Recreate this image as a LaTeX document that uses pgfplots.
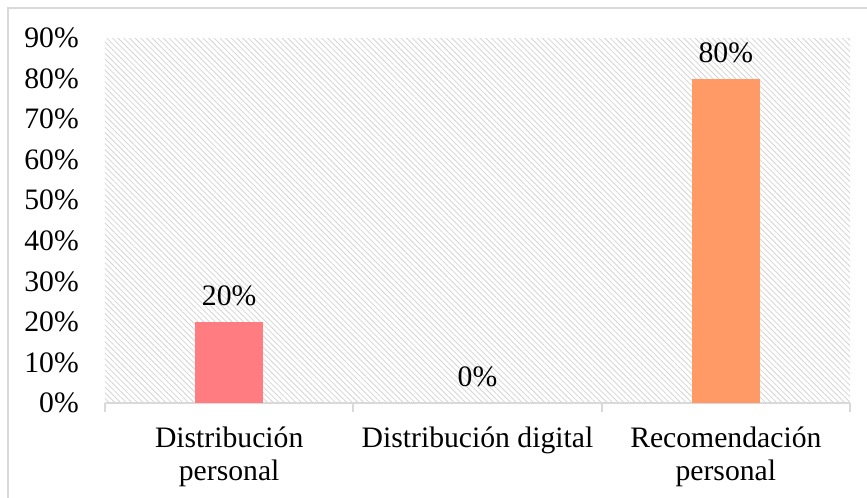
\documentclass[border=0pt]{standalone}
\usepackage{fontspec}
\setmainfont{Liberation Serif}
\usepackage{pgfplots}
\pgfplotsset{compat=1.18}
\usetikzlibrary{patterns.meta}
\definecolor{barrose}{HTML}{FF7C80}
\definecolor{barpeach}{HTML}{FF9966}
\definecolor{framegray}{HTML}{D9D9D9}
\definecolor{hatchgray}{HTML}{D4D4D4}

\begin{document}
\begin{tikzpicture}[font=\fontsize{22.25pt}{24.75pt}\selectfont]
\path[use as bounding box] (-78.75pt,-70.5pt) rectangle (571.5pt,302.25pt);
\begin{axis}[
  scale only axis, width=558.75pt, height=273.75pt,
  ybar, bar width=51pt,
  xmin=-0.5, xmax=2.5, ymin=0, ymax=90,
  axis x line*=bottom, axis y line*=left,
  x axis line style={-, draw=framegray, line width=1.5pt},
  y axis line style={draw=none},
  axis background/.style={pattern={Lines[angle=-45, distance=3pt, line width=0.6pt]}, pattern color=hatchgray},
  /pgf/number format/assume math mode=true,
  ytick={0,10,...,90},
  yticklabel={\pgfmathprintnumber{\tick}\%},
  yticklabel style={anchor=east, inner sep=0pt, xshift=-19.5pt},
  ytick style={draw=none},
  xtick={0,1,2},
  xticklabels={{Distribución\\personal},{Distribución digital},{Recomendación\\personal}},
  xticklabel style={align=center, anchor=north, inner sep=0pt, yshift=-17.5pt},
  major tick length=0pt,
  minor xtick={-0.5,0.5,1.5,2.5},
  minor tick length=6.75pt,
  tick align=outside,
  minor x tick style={draw=framegray, line width=1.5pt},
  major x tick style={draw=none},
  nodes near coords={\pgfmathprintnumber{\pgfplotspointmeta}\%},
  nodes near coords style={inner sep=0pt, text depth=0pt, yshift=12pt, text=black},
  clip=false,
]
\addplot[bar shift=0pt, fill=barrose, draw=none] coordinates {(0,20)};
\addplot[bar shift=0pt, fill=none, draw=none] coordinates {(1,0)};
\addplot[bar shift=0pt, fill=barpeach, draw=none] coordinates {(2,80)};
\end{axis}
\draw[framegray, line width=1.5pt] (-72.75pt,-80pt) -- (-72.75pt,296.25pt) -- (580pt,296.25pt);
\end{tikzpicture}
\end{document}
